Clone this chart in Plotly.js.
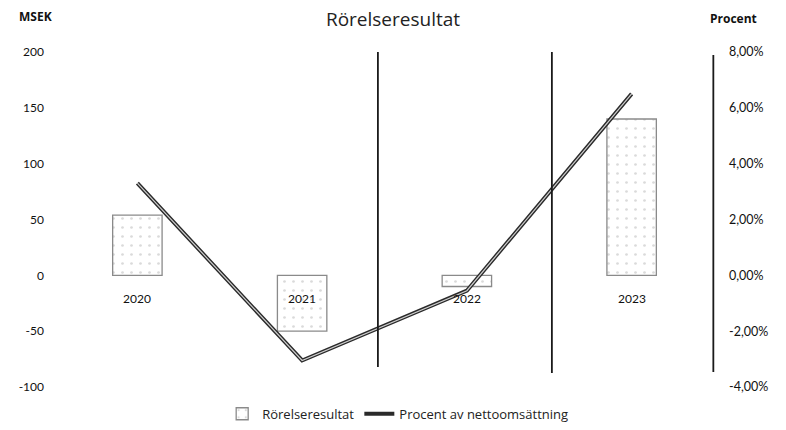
<!DOCTYPE html>
<html>
<head>
<meta charset="utf-8">
<script src="https://cdn.plot.ly/plotly-3.0.1.min.js"></script>
<style>html,body{margin:0;padding:0;background:#fff;}#chart{width:786px;height:430px;}</style>
</head>
<body>
<div id="chart"></div>
<script>
// Data
var years = ['2020', '2021', '2022', '2023'];
var rorelseresultat = [54, -50, -10, 140];           // MSEK
var procentAvNetto = [3.3, -3.05, -0.55, 6.5];      // %
var leftTickVals = [200, 150, 100, 50, 0, -50, -100];
var leftTickText = ['200', '150', '100', '50', '0', '-50', '-100'];
var rightTickVals = [8, 6, 4, 2, 0, -2, -4];
var rightTickText = ['8,00%', '6,00%', '4,00%', '2,00%', '0,00%', '-2,00%', '-4,00%'];

var fontFam = 'Lato, "Open Sans", "DejaVu Sans", sans-serif';
var wideFam = '"Open Sans", Lato, "DejaVu Sans", sans-serif';

var traces = [
  {
    type: 'bar', x: years, y: rorelseresultat, name: 'Rörelseresultat',
    width: 0.3,
    marker: {color: '#ffffff', line: {color: '#8a8a8a', width: 1.3},
             pattern: {shape: '.', fgcolor: '#dadada', bgcolor: '#ffffff', size: 9, solidity: 0.07}},
    hoverinfo: 'skip'
  },
  {
    type: 'scatter', mode: 'lines', x: years, y: procentAvNetto, yaxis: 'y2',
    name: 'Procent av nettoomsättning',
    line: {color: '#2a2a2a', width: 4},
    hoverinfo: 'skip'
  },
  {
    type: 'scatter', mode: 'lines', x: years, y: procentAvNetto, yaxis: 'y2',
    showlegend: false,
    line: {color: '#cfcfcf', width: 1.2},
    hoverinfo: 'skip'
  }
];

var annotations = [
  {text: '<b>MSEK</b>', xref: 'paper', yref: 'paper', x: -0.029, y: 1.105, xanchor: 'center', yanchor: 'middle',
   showarrow: false, font: {size: 12, color: '#111', family: wideFam}},
  {text: '<b>Procent</b>', xref: 'paper', yref: 'paper', x: 1.029, y: 1.1, xanchor: 'center', yanchor: 'middle',
   showarrow: false, font: {size: 12, color: '#111', family: wideFam}}
];
years.forEach(function (yr) {
  annotations.push({text: yr, xref: 'x', yref: 'y', x: yr, y: 0, yanchor: 'top', yshift: -14,
    showarrow: false, font: {size: 12, color: '#111', family: fontFam}});
});

var layout = {
  width: 786, height: 430,
  margin: {l: 55, r: 72, t: 52, b: 43, autoexpand: false},
  paper_bgcolor: '#ffffff', plot_bgcolor: '#ffffff',
  font: {family: fontFam, color: '#111', size: 12},
  title: {text: 'Rörelseresultat', x: 0.5, xanchor: 'center', y: 0.955, yanchor: 'middle',
          font: {size: 19, color: '#222', family: wideFam}},
  showlegend: true,
  legend: {orientation: 'h', x: 0.52, xanchor: 'center', y: -0.08, yanchor: 'middle',
           font: {size: 13, color: '#222', family: wideFam}, bgcolor: 'rgba(0,0,0,0)',
           itemwidth: 30, traceorder: 'normal'},
  xaxis: {showticklabels: false, showgrid: false, zeroline: false, showline: false, ticks: '', fixedrange: true},
  yaxis: {range: [-100, 200], tickvals: leftTickVals, ticktext: leftTickText, showgrid: false,
          zeroline: false, showline: false, ticks: '', ticklabelstandoff: 10,
          tickfont: {size: 12, color: '#111', family: fontFam}},
  yaxis2: {range: [-4, 8], overlaying: 'y', side: 'right', tickvals: rightTickVals, ticktext: rightTickText,
           showgrid: false, zeroline: false, showline: false, ticks: '', ticklabelstandoff: 14,
           tickfont: {size: 12.5, color: '#111', family: fontFam}},
  annotations: annotations,
  shapes: [
    {type: 'line', xref: 'paper', yref: 'paper', x0: 0.490, x1: 0.490, y0: 1, y1: 0.06,
     line: {color: '#1a1a1a', width: 1.8}},
    {type: 'line', xref: 'paper', yref: 'paper', x0: 0.754, x1: 0.754, y0: 1, y1: 0.042,
     line: {color: '#1a1a1a', width: 1.8}},
    {type: 'line', xref: 'paper', yref: 'paper', x0: 0.999, x1: 0.999, y0: 0.991, y1: 0.045,
     line: {color: '#1a1a1a', width: 1.8}}
  ]
};

Plotly.newPlot('chart', traces, layout, {displayModeBar: false, staticPlot: true});
</script>
</body>
</html>
